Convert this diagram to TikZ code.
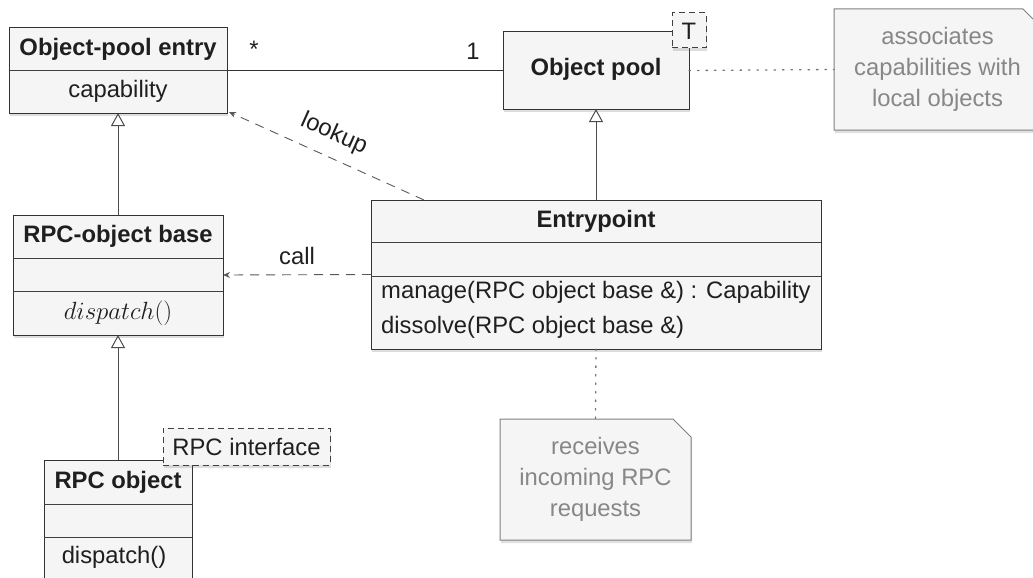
\documentclass[tikz,border=0pt]{standalone}
\usepackage{fontspec}
\setmainfont{Liberation Sans}
\usetikzlibrary{arrows.meta,shadows,backgrounds}
\newcommand\mydiagfont{\fontsize{23.8}{28}\selectfont}
\begin{document}
\begin{tikzpicture}[x=1pt,y=-1pt,
  every node/.style={font=\mydiagfont, text=black!88},
  box/.style={draw=black!80, fill=black!4, line width=1pt, inner sep=0pt, outer sep=0pt,
    drop shadow={shadow xshift=1pt, shadow yshift=-3pt, opacity=0.22, fill=black!60}},
  tmpl/.style={draw=black!75, fill=black!4, line width=1pt, inner sep=0pt, outer sep=0pt,
    dash pattern=on 6pt off 4pt,
    drop shadow={shadow xshift=1pt, shadow yshift=-3pt, opacity=0.22, fill=black!60}},
  divider/.style={draw=black!75, line width=1pt},
  title/.style={font=\mydiagfont\bfseries, inner sep=0pt},
  plain/.style={inner sep=0pt},
  gen/.style={-{Triangle[open,length=13pt,width=14pt,fill=white]}, line width=1pt, draw=black!70},
  dep/.style={-{Stealth[length=7pt,width=6pt]}, dash pattern=on 9pt off 7pt, line width=0.9pt, draw=black!65},
  assoc/.style={line width=1pt, draw=black!80},
  dotline/.style={dash pattern=on 1.5pt off 7pt, line width=1.3pt, draw=black!55, line cap=round},
  notetext/.style={inner sep=0pt, outer sep=0pt, align=center, text=black!47,
    font=\fontsize{23.8}{31}\selectfont},
  notebox/.style={draw=black!50, fill=black!4, line width=1pt,
    drop shadow={shadow xshift=1pt, shadow yshift=-3pt, opacity=0.2, fill=black!60}}
]
\useasboundingbox (0,0) rectangle (1033,578);

% ---------- Object-pool entry
\node[box, minimum width=218pt, minimum height=85pt] (ope) at (118,70.5) {};
\draw[divider] (ope.west |- 0,71) -- (ope.east |- 0,71);
\node[title] (opet) at (118,49) {Object-pool entry};
\node[plain] (opea) at (118,91) {capability};

% ---------- Object pool
\node[box, minimum width=186pt, minimum height=77pt] (pool) at (596,70.5) {};
\node[title] (poolt) at (596,69) {Object pool};
\node[tmpl, minimum width=34pt, minimum height=35pt] (tpar) at (689,30.5) {};
\node[plain] (tpart) at (689,31) {T};

% ---------- Entrypoint
\node[box, minimum width=450pt, minimum height=149pt] (ep) at (596,274.5) {};
\draw[divider] (ep.west |- 0,242) -- (ep.east |- 0,242);
\draw[divider] (ep.west |- 0,276) -- (ep.east |- 0,276);
\node[title] (ept) at (596,221) {Entrypoint};
\node[plain, anchor=west, align=left, font=\fontsize{23.8}{35}\selectfont] (epm) at (381,309.5)
  {manage(RPC object base \&) : Capability\\dissolve(RPC object base \&)};

% ---------- RPC-object base
\node[box, minimum width=210pt, minimum height=120pt] (base) at (118,275) {};
\draw[divider] (base.west |- 0,258) -- (base.east |- 0,258);
\draw[divider] (base.west |- 0,291) -- (base.east |- 0,291);
\node[title] (baset) at (118,236) {RPC-object base};
\node[plain] (basem) at (118,313) {$dispatch()$};

% ---------- RPC object
\node[box, minimum width=148pt, minimum height=135pt] (obj) at (118,527.5) {};
\draw[divider] (obj.west |- 0,504) -- (obj.east |- 0,504);
\draw[divider] (obj.west |- 0,537) -- (obj.east |- 0,537);
\node[title] (objt) at (118,482) {RPC object};
\node[plain] (objm) at (114,557) {dispatch()};
\node[tmpl, minimum width=167pt, minimum height=37pt] (iface) at (246.5,446.5) {};
\node[plain] (ifacet) at (246.5,447) {RPC interface};

% ---------- Notes
\node[notetext, minimum width=207pt, minimum height=121pt] (n1) at (937.5,69.5)
  {associates\\capabilities with\\local objects};
\node[notetext, minimum width=191pt, minimum height=121pt] (n2) at (595.5,479.5)
  {receives\\incoming RPC\\requests};
\begin{scope}[on background layer]
  \path[notebox] (n1.south west) -- (n1.north west) -- ([xshift=-18pt]n1.north east)
    -- ([yshift=-18pt]n1.north east) -- (n1.south east) -- cycle;
  \path[notebox] (n2.south west) -- (n2.north west) -- ([xshift=-18pt]n2.north east)
    -- ([yshift=-18pt]n2.north east) -- (n2.south east) -- cycle;
\end{scope}

% ---------- Connectors
\draw[assoc] (ope.east) -- (pool.west);
\node[plain] (mstar) at (254,49) {*};
\node[plain] (mone) at (473,51) {1};

\draw[gen] (base.north) -- (ope.south);
\draw[gen] (obj.north) -- (base.south);
\draw[gen] (ep.north) -- (pool.south);

\draw[dep] ([xshift=53pt]ep.north west) -- ([shift={(2pt,1pt)}]ope.south east);
\node[plain, rotate=-24] (lookup) at (334,134) {lookup};
\draw[dep] (ep.west) -- (base.east);
\node[plain] (call) at (297,256) {call};

\draw[dotline] (pool.east) -- (n1.west);
\draw[dotline] (ep.south) -- (n2.north);
\end{tikzpicture}
\end{document}
